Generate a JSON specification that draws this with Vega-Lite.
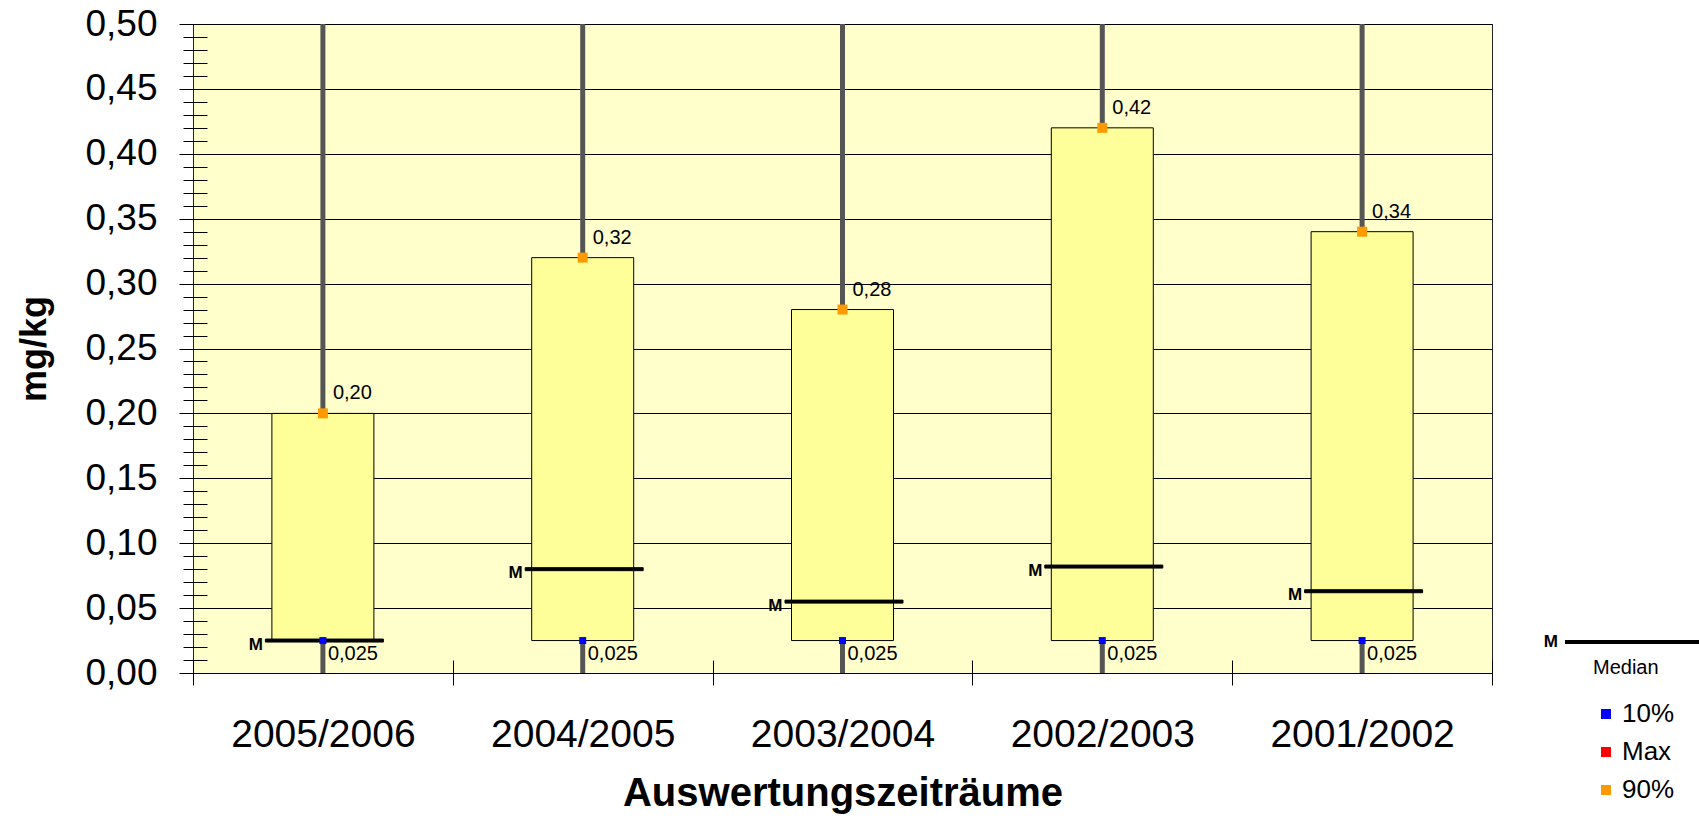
{
  "$schema": "https://vega.github.io/schema/vega-lite/v6.json",
  "autosize": "none",
  "width": 1299,
  "height": 649,
  "padding": {"left": 193, "top": 24, "right": 207, "bottom": 146},
  "background": "white",
  "config": {
    "locale": {"number": {"decimal": ",", "thousands": ".", "grouping": [3], "currency": ["", " €"]}},
    "font": "Liberation Sans",
    "view": {"fill": "#FFFFCC", "stroke": "#222222", "strokeWidth": 1},
    "legend": {"padding": 0}
  },
  "data": {
    "values": [
      {"period": "2005/2006", "min": 0, "p10": 0.025, "median": 0.025, "p90": 0.20, "max": 0.5},
      {"period": "2004/2005", "min": 0, "p10": 0.025, "median": 0.080, "p90": 0.32, "max": 0.5},
      {"period": "2003/2004", "min": 0, "p10": 0.025, "median": 0.055, "p90": 0.28, "max": 0.5},
      {"period": "2002/2003", "min": 0, "p10": 0.025, "median": 0.082, "p90": 0.42, "max": 0.5},
      {"period": "2001/2002", "min": 0, "p10": 0.025, "median": 0.063, "p90": 0.34, "max": 0.5}
    ]
  },
  "encoding": {
    "x": {
      "field": "period",
      "type": "nominal",
      "sort": null,
      "scale": {"paddingInner": 0, "paddingOuter": 0},
      "axis": {
        "title": "Auswertungszeiträume",
        "titleFontSize": 40,
        "titleFontWeight": "bold",
        "titleColor": "#000000",
        "titlePadding": 19,
        "labelFontSize": 39,
        "labelAngle": 0,
        "labelLimit": 0,
        "labelColor": "#000000",
        "labelPadding": 30,
        "offset": -13,
        "domain": false,
        "tickBand": "extent",
        "tickSize": 25,
        "tickColor": "#000000",
        "grid": false
      }
    }
  },
  "layer": [
    {
      "mark": {"type": "rule", "strokeWidth": 5, "color": "#555555"},
      "encoding": {
        "y": {
          "field": "min",
          "type": "quantitative",
          "scale": {"domain": [0, 0.5], "nice": false},
          "axis": {
            "title": "mg/kg",
            "titleFontSize": 36,
            "titleFontWeight": "bold",
            "titleColor": "#000000",
            "titlePadding": 31,
            "values": [0,0.01,0.02,0.03,0.04,0.05,0.06,0.07,0.08,0.09,0.1,0.11,0.12,0.13,0.14,0.15,0.16,0.17,0.18,0.19,0.2,0.21,0.22,0.23,0.24,0.25,0.26,0.27,0.28,0.29,0.3,0.31,0.32,0.33,0.34,0.35,0.36,0.37,0.38,0.39,0.4,0.41,0.42,0.43,0.44,0.45,0.46,0.47,0.48,0.49,0.5],
            "tickCount": 100,
            "labelOverlap": false,
            "format": ".2f",
            "labelExpr": "round(datum.value*100) % 5 == 0 ? datum.label : ''",
            "labelFontSize": 37,
            "labelColor": "#000000",
            "labelPadding": 22,
            "offset": -14,
            "domain": false,
            "tickSize": {"condition": {"test": "round(datum.value*100) % 5 == 0", "value": 28}, "value": 24},
            "tickColor": "#000000",
            "grid": true,
            "gridColor": "#000000",
            "gridOpacity": {"condition": {"test": "round(datum.value*100) % 5 == 0", "value": 1}, "value": 0}
          }
        },
        "y2": {"field": "max"}
      }
    },
    {
      "mark": {"type": "bar", "fill": "#FFFF99", "stroke": "#000000", "strokeWidth": 1, "width": 102},
      "encoding": {
        "y": {"field": "p10", "type": "quantitative"},
        "y2": {"field": "p90"}
      }
    },
    {
      "mark": {"type": "tick", "thickness": 3, "size": 118, "color": "#000000", "strokeWidth": 1, "opacity": 1, "orient": "horizontal", "xOffset": 1.5},
      "encoding": {
        "y": {"field": "median", "type": "quantitative"},
        "stroke": {
          "datum": "M",
          "type": "nominal",
          "scale": {"domain": ["M"], "range": ["#000000"]},
          "legend": {
            "title": null,
            "symbolType": "stroke",
            "symbolSize": 19600,
            "symbolStrokeWidth": 4,
            "symbolStrokeColor": "#000000",
            "symbolOpacity": 1,
            "labelFontSize": 17,
            "labelFontWeight": "bold",
            "labelColor": "#000000",
            "labelAlign": "right",
            "labelOffset": -149,
            "orient": "none",
            "legendX": 1370,
            "legendY": 546
          }
        }
      }
    },
    {
      "mark": {"type": "point", "shape": "square", "filled": true, "size": 49, "opacity": 1, "strokeWidth": 0},
      "encoding": {
        "y": {"field": "p10", "type": "quantitative"},
        "fill": {
          "datum": "10%",
          "type": "nominal",
          "scale": {"domain": ["10%", "Max", "90%"], "range": ["#0000FF", "#FF0000", "#FF9900"]},
          "legend": {
            "title": "Median",
            "titleFontSize": 20,
            "titleFontWeight": "normal",
            "titleColor": "#000000",
            "titlePadding": 23,
            "symbolType": "square",
            "symbolSize": 100,
            "symbolStrokeWidth": 0,
            "symbolOpacity": 1,
            "labelFontSize": 26,
            "labelColor": "#000000",
            "labelOffset": 3,
            "rowPadding": 12,
            "orient": "none",
            "legendX": 1400,
            "legendY": 634
          }
        }
      }
    },
    {
      "mark": {"type": "point", "shape": "square", "filled": true, "size": 100, "opacity": 1, "strokeWidth": 0},
      "encoding": {
        "y": {"field": "p90", "type": "quantitative"},
        "fill": {"datum": "90%", "type": "nominal"}
      }
    },
    {
      "mark": {"type": "text", "align": "left", "baseline": "middle", "dx": 5, "dy": 13, "fontSize": 20, "color": "#000000"},
      "encoding": {
        "y": {"field": "p10", "type": "quantitative"},
        "text": {"field": "p10", "type": "quantitative", "format": ".3f"}
      }
    },
    {
      "mark": {"type": "text", "align": "left", "baseline": "middle", "dx": 10, "dy": -20, "fontSize": 20, "color": "#000000"},
      "encoding": {
        "y": {"field": "p90", "type": "quantitative"},
        "text": {"field": "p90", "type": "quantitative", "format": ".2f"}
      }
    },
    {
      "mark": {"type": "text", "align": "right", "baseline": "middle", "dx": -60, "dy": 4, "fontSize": 17, "fontWeight": "bold", "color": "#000000", "text": "M"},
      "encoding": {
        "y": {"field": "median", "type": "quantitative"}
      }
    }
  ]
}
